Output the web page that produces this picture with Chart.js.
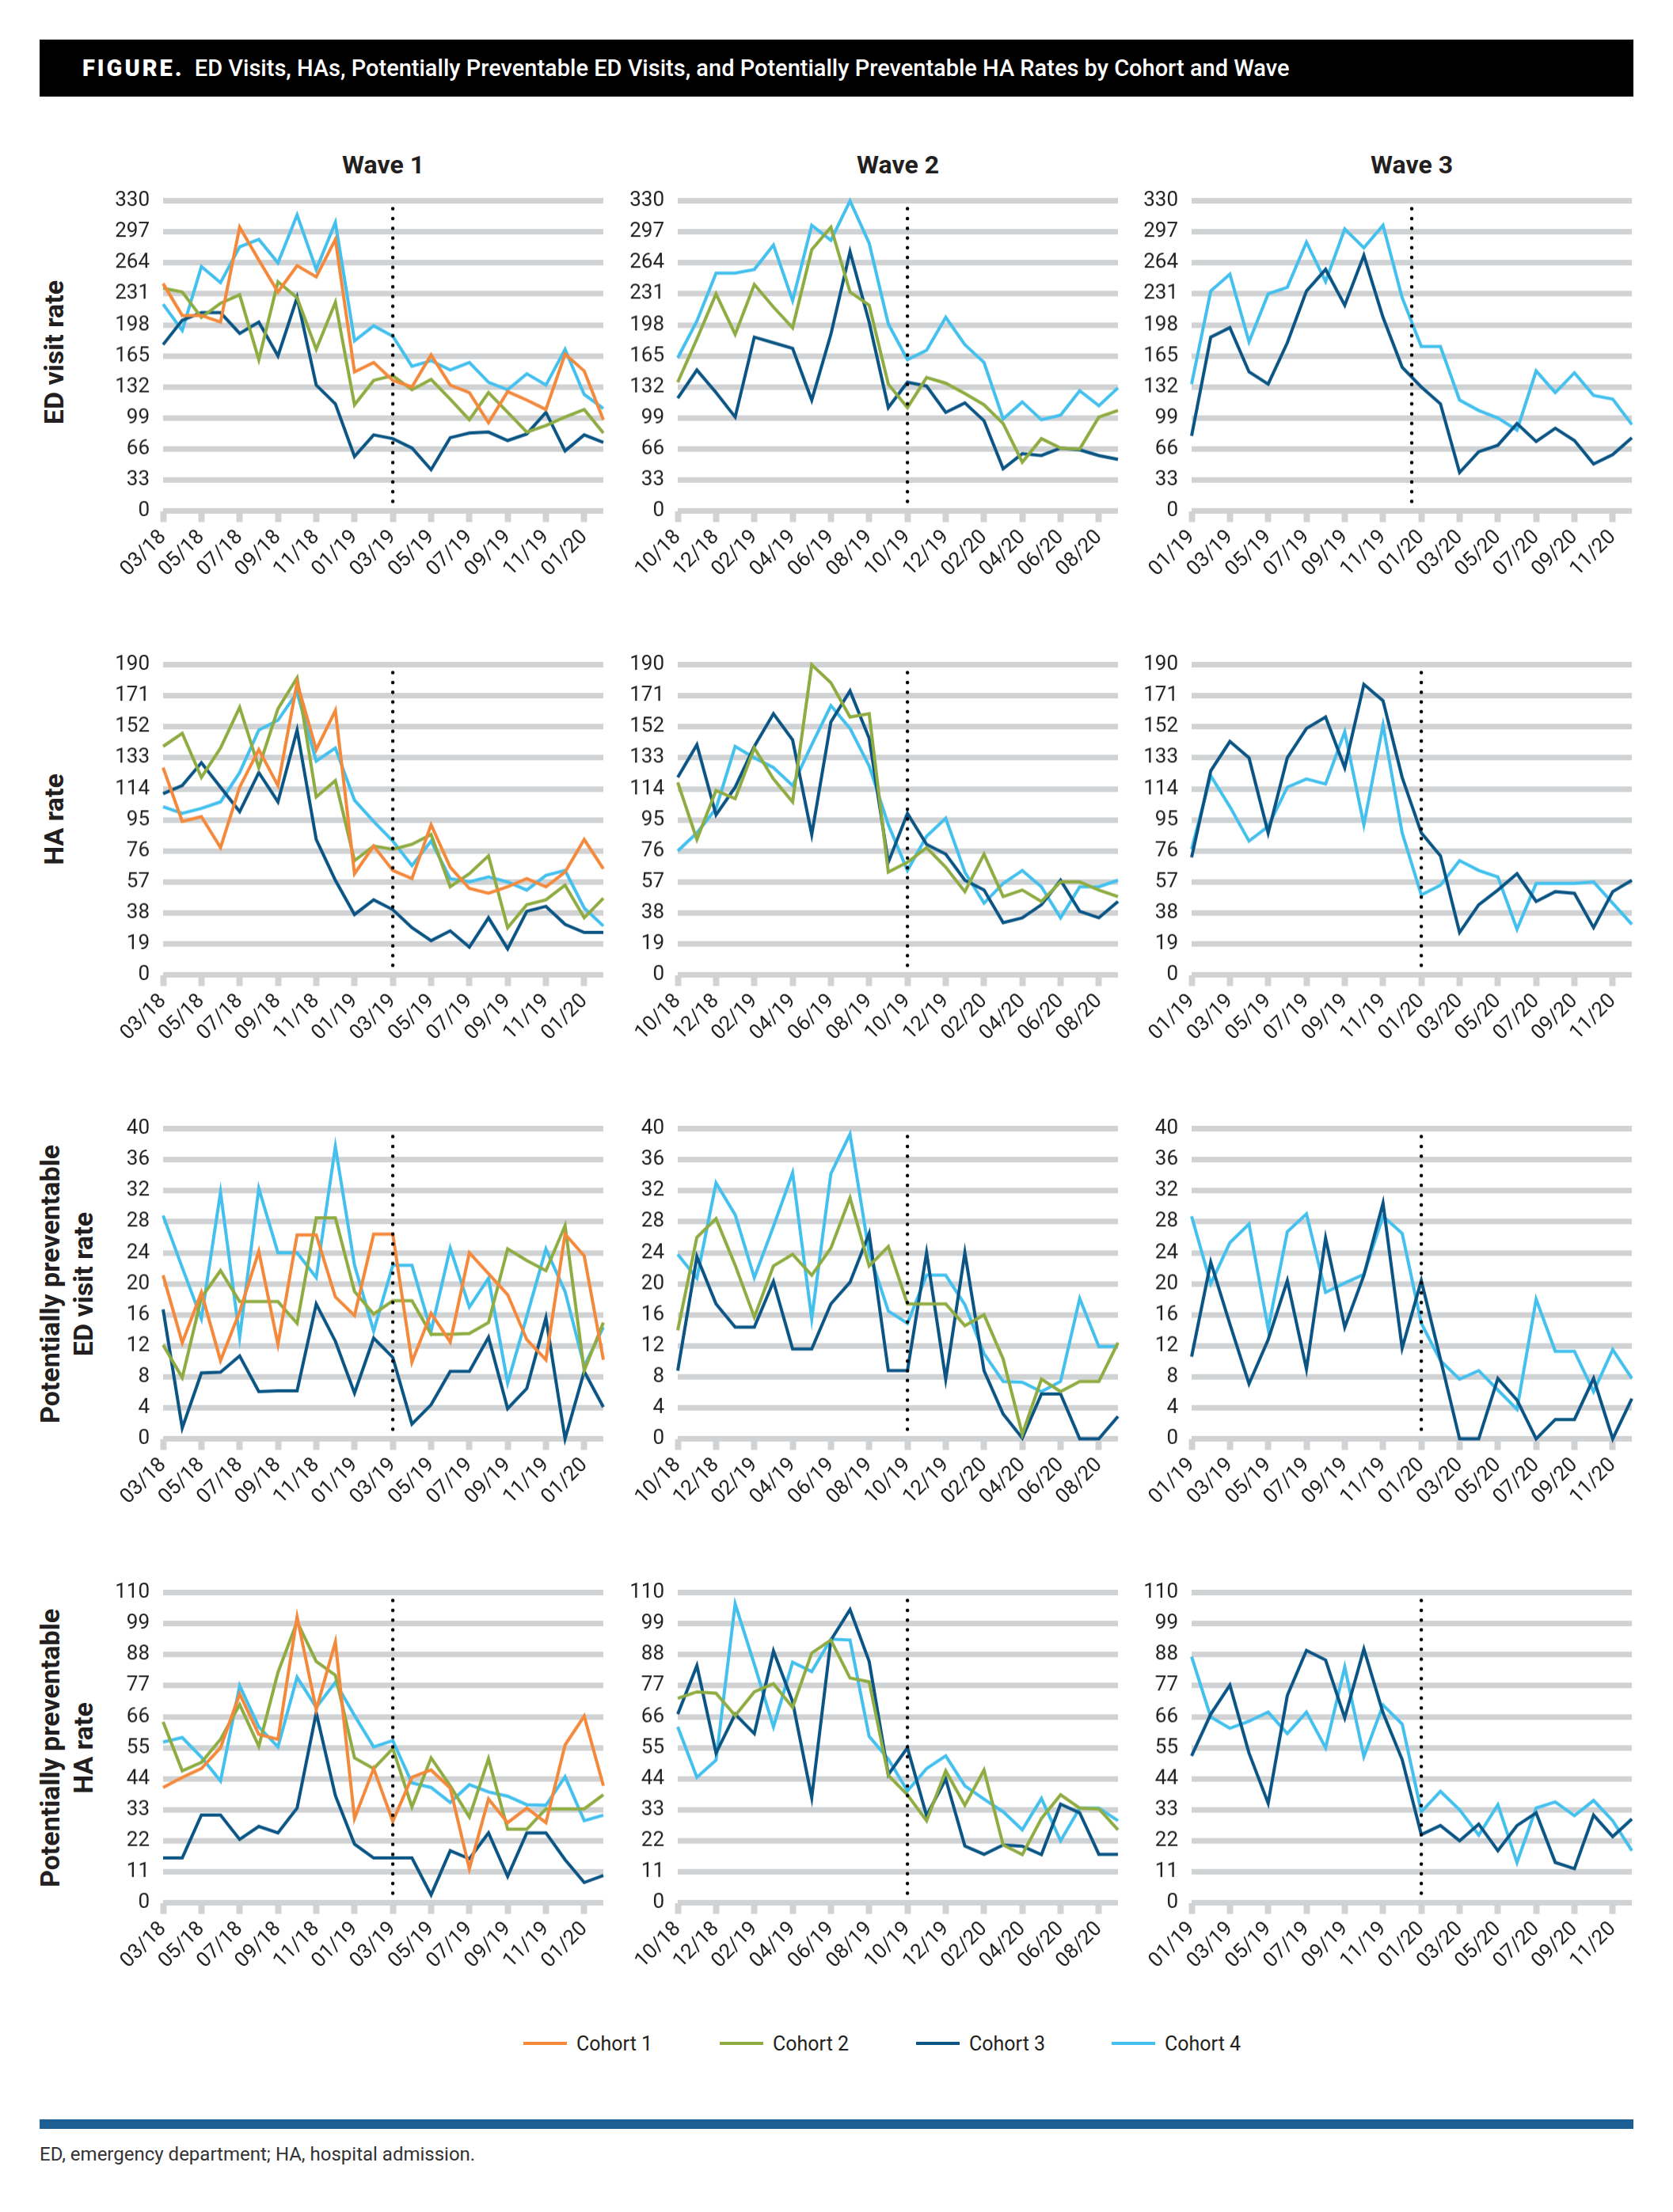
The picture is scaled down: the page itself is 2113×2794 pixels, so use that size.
<!DOCTYPE html>
<html lang="en">
<head>
  <meta charset="UTF-8">
  <title>ED Visits, HAs, Potentially Preventable ED Visits, and Potentially Preventable HA Rates by Cohort and Wave</title>
  <script src="https://cdn.jsdelivr.net/npm/chart.js"></script>
  <style>
    body { margin: 0; background: #fff; font-family: Roboto, "Liberation Sans", Arial, sans-serif; color: #231f20; }
    #page { position: relative; width: 2113px; height: 2794px; overflow: hidden; }
    .header { position: absolute; left: 50px; top: 50px; width: 2013px; height: 72px; background: #000; color: #fff;
              font-size: 29px; font-weight: 500; line-height: 72px; padding-left: 54px; box-sizing: border-box; white-space: nowrap; }
    .header b { font-weight: 900; letter-spacing: 3px; margin-right: 6px; }
    .wave { position: absolute; top: 188px; width: 556px; text-align: center; font-weight: 700; font-size: 32px; line-height: 40px; }
    .rowlab { position: absolute; font-weight: 700; font-size: 34px; line-height: 42px; text-align: center; white-space: nowrap;
              transform: translate(-50%, -50%) rotate(-90deg); }
    canvas { position: absolute; }
    .leg { position: absolute; top: 2566px; height: 30px; display: flex; align-items: center; font-size: 25px; white-space: nowrap; }
    .leg span { display: inline-block; width: 55px; height: 4px; margin-right: 12px; }
    .bar { position: absolute; left: 50px; top: 2677px; width: 2013px; height: 12px; background: #1b5f95; }
    .foot { position: absolute; left: 50px; top: 2707px; font-size: 24px; color: #333; }
  </style>
</head>
<body>
<div id="page">
  <div class="header"><b>FIGURE.</b> ED Visits, HAs, Potentially Preventable ED Visits, and Potentially Preventable HA Rates by Cohort and Wave</div>

  <div class="wave" style="left:206px">Wave 1</div>
  <div class="wave" style="left:856px">Wave 2</div>
  <div class="wave" style="left:1505px">Wave 3</div>

  <div class="rowlab" style="left:68px; top:445px">ED visit rate</div>
  <div class="rowlab" style="left:68px; top:1035px">HA rate</div>
  <div class="rowlab" style="left:84px; top:1622px">Potentially preventable<br>ED visit rate</div>
  <div class="rowlab" style="left:84px; top:2208px">Potentially preventable<br>HA rate</div>

  <div id="legend"></div>
  <div class="bar"></div>
  <div class="foot">ED, emergency department; HA, hospital admission.</div>
</div>

<script>
  // month labels for each wave
  const wave1Months = ['03/18','04/18','05/18','06/18','07/18','08/18','09/18','10/18','11/18','12/18','01/19','02/19',
                       '03/19','04/19','05/19','06/19','07/19','08/19','09/19','10/19','11/19','12/19','01/20','02/20'];
  const wave2Months = ['10/18','11/18','12/18','01/19','02/19','03/19','04/19','05/19','06/19','07/19','08/19','09/19',
                       '10/19','11/19','12/19','01/20','02/20','03/20','04/20','05/20','06/20','07/20','08/20','09/20'];
  const wave3Months = ['01/19','02/19','03/19','04/19','05/19','06/19','07/19','08/19','09/19','10/19','11/19','12/19',
                       '01/20','02/20','03/20','04/20','05/20','06/20','07/20','08/20','09/20','10/20','11/20','12/20'];

  const cohortNames = ['Cohort 1', 'Cohort 2', 'Cohort 3', 'Cohort 4'];
  const cohortColors = ['#f4883b', '#8fac42', '#0b5585', '#43c0ed'];

  // ED visit rate
  const edW1C1 = [242,208,208,201,302,267,233,261,249,289,148,158,139,132,166,134,126,94,127,118,108,167,149,97];
  const edW1C2 = [237,233,206,221,230,161,244,227,172,222,113,139,144,129,140,119,97,126,105,84,91,100,108,83];
  const edW1C3 = [177,203,211,211,189,201,165,227,134,114,58,81,77,67,44,78,83,84,75,82,105,64,81,73];
  const edW1C4 = [220,192,260,243,281,289,264,315,257,307,181,197,186,154,160,150,158,137,129,146,134,172,124,109];
  const edW2C2 = [137,183,231,188,241,217,195,278,302,233,219,135,110,142,136,125,113,93,52,77,67,66,100,107];
  const edW2C3 = [120,150,126,100,185,179,173,118,188,276,201,110,137,133,105,115,96,45,61,59,67,65,59,55];
  const edW2C4 = [163,202,253,253,257,283,224,304,288,330,285,199,161,171,206,177,158,98,116,97,102,128,112,131];
  const edW3C3 = [80,185,195,148,135,179,234,257,219,272,206,153,132,114,41,63,70,93,74,88,75,50,60,78];
  const edW3C4 = [135,234,252,180,231,238,286,244,300,280,304,227,175,175,118,107,99,86,149,126,147,123,119,92];

  // HA rate
  const haW1C1 = [127,94,97,78,115,138,116,179,138,162,62,79,64,59,92,66,53,50,54,59,54,63,83,65];
  const haW1C2 = [140,148,121,139,164,127,163,182,109,119,70,79,77,80,86,54,62,73,29,43,46,55,35,47];
  const haW1C3 = [111,116,130,115,100,124,106,150,83,58,37,46,40,29,21,27,17,35,16,39,42,31,26,26];
  const haW1C4 = [103,99,102,106,124,150,156,173,131,139,107,94,82,67,82,59,57,60,57,52,61,64,41,30];
  const haW2C2 = [118,83,113,108,139,120,106,190,179,158,160,63,69,78,66,51,74,48,52,45,57,57,52,48];
  const haW2C3 = [121,141,98,115,140,160,144,86,155,174,145,69,99,80,74,58,52,32,35,43,58,39,35,45];
  const haW2C4 = [76,87,102,140,133,127,116,141,165,151,128,92,64,85,96,63,44,56,64,54,35,54,54,58];
  const haW3C3 = [72,125,143,133,87,133,151,158,127,178,168,121,87,73,26,43,52,62,45,51,50,29,51,58];
  const haW3C4 = [77,122,103,82,91,115,120,117,149,92,153,87,49,55,70,64,60,28,56,56,56,57,44,31];

  // potentially preventable ED visit rate
  const ppedW1C1 = [21.1,12.4,18.9,10.1,16.4,24.2,12.2,26.3,26.3,18.3,15.9,26.4,26.4,9.9,16.2,12.5,24.0,21.3,18.6,12.8,10.2,26.4,23.6,10.2];
  const ppedW1C2 = [12.1,7.9,18.2,21.7,17.7,17.7,17.7,14.9,28.5,28.5,19.0,16.1,17.8,17.8,13.5,13.5,13.6,15.0,24.5,23.0,21.7,27.5,8.8,15.0];
  const ppedW1C3 = [16.7,1.4,8.5,8.6,10.7,6.1,6.2,6.2,17.4,12.6,5.9,13.0,10.5,1.9,4.4,8.7,8.7,13.1,3.9,6.5,15.6,0,8.7,4.1];
  const ppedW1C4 = [28.8,22.1,15.5,31.8,13.1,32.3,24.0,24.0,20.8,37.7,22.4,13.9,22.4,22.4,13.9,24.6,17.0,20.7,7.2,15.8,24.5,19.0,9.4,14.4];
  const ppedW2C2 = [14.0,26.0,28.4,22.4,15.7,22.3,23.8,21.1,24.6,31.1,22.3,24.8,17.4,17.4,17.4,14.6,16.0,10.3,0.6,7.7,6.1,7.4,7.4,12.4];
  const ppedW2C3 = [8.8,23.5,17.4,14.4,14.4,20.3,11.6,11.6,17.4,20.2,26.5,8.8,8.8,24.0,7.7,24.0,8.8,3.2,0.1,5.8,5.8,0,0,2.9];
  const ppedW2C4 = [23.8,20.7,33.0,28.9,20.8,27.4,34.3,15.5,34.2,39.3,24.0,16.5,14.9,21.1,21.1,17.3,11.0,7.4,7.3,6.1,7.4,18.1,11.9,11.9];
  const ppedW3C3 = [10.6,22.8,14.8,7.1,12.8,20.4,9.0,25.9,14.4,21.1,30.4,11.7,20.4,10.3,0,0,7.8,5.0,0,2.5,2.5,7.8,0,5.2];
  const ppedW3C4 = [28.7,20.0,25.3,27.7,14.2,26.7,29.0,18.9,20.1,21.2,28.7,26.5,14.9,10.1,7.7,8.8,6.3,3.8,18.0,11.3,11.3,6.1,11.5,7.8];

  // potentially preventable HA rate
  const pphaW1C1 = [40.9,44.5,47.6,55.0,74.1,59.7,58.0,101.4,68.5,92.5,29.9,47.6,28.9,44.5,47.1,40.7,12.1,36.8,28.4,33.6,28.4,56.0,66.2,41.5];
  const pphaW1C2 = [64.2,46.8,49.8,58.0,70.3,55.5,81.7,99.7,85.6,80.7,51.4,47.6,54.7,34.0,51.4,41.5,30.4,51.1,26.1,26.1,33.3,33.3,33.3,38.3];
  const pphaW1C3 = [15.9,15.9,31.1,31.1,22.5,27.1,24.8,33.6,67.4,38.0,20.8,15.9,15.9,15.9,2.8,18.5,15.6,24.8,9.4,24.8,24.8,15.3,7.2,9.7];
  const pphaW1C4 = [57.0,58.6,51.6,43.2,77.0,62.4,55.3,80.0,69.3,78.2,66.4,55.3,57.5,42.5,40.9,35.6,41.9,39.3,37.8,34.8,34.6,44.7,29.1,31.1];
  const pphaW2C2 = [72.5,74.8,74.3,66.4,74.8,77.7,69.3,88.6,93.2,79.7,78.4,45.2,38.3,29.1,46.8,34.6,47.1,20.5,17.1,29.9,38.3,33.6,33.3,25.9];
  const pphaW2C3 = [66.9,84.1,53.1,66.9,60.0,89.3,71.3,37.3,93.2,104.0,85.6,45.5,55.0,30.9,43.9,20.1,17.2,20.5,20.1,17.1,35.0,31.9,17.2,17.2];
  const pphaW2C4 = [62.4,44.5,50.6,106.0,84.6,62.4,85.3,82.0,93.5,93.2,59.0,51.0,39.7,47.6,52.1,41.5,36.8,32.3,25.9,37.0,22.0,33.6,33.6,29.1];
  const pphaW3C3 = [52.1,66.9,77.2,53.1,35.3,73.5,89.5,86.1,65.6,90.0,67.4,50.8,24.2,27.4,22.0,27.9,18.5,27.4,31.9,14.3,12.1,31.1,23.5,29.7];
  const pphaW3C4 = [87.3,65.9,61.9,64.4,67.6,60.0,67.6,55.0,83.6,51.8,70.1,63.4,32.3,39.5,33.0,24.0,34.8,14.3,33.6,35.8,30.9,36.3,29.1,18.5];

  // y axis per row: max, step
  const rowMax = [330, 190, 40, 110];
  const rowStep = [33, 19, 4, 11];
  // where the dotted line sits (month index), per row and wave
  const dividerAt = [[12, 12, 11.5], [12, 12, 12], [12, 12, 12], [12, 12, 12]];

  // panel placement (chart area, page pixels)
  const colLeft = [206, 856, 1505];
  const rowTop = [254, 840, 1426, 2012];
  const areaW = 556, areaH = 391, yAxisW = 75, xAxisH = 95, padRight = 15;

  Chart.defaults.font.family = 'Roboto, "Liberation Sans", Arial, sans-serif';
  Chart.defaults.color = '#231f20';

  const dividerPlugin = {
    id: 'divider',
    afterDatasetsDraw(chart, args, opts) {
      const { ctx, chartArea } = chart;
      const x = chart.scales.x.getPixelForValue(opts.at);
      ctx.save();
      ctx.strokeStyle = '#000';
      ctx.lineWidth = 4.5;
      ctx.lineCap = 'round';
      ctx.setLineDash([0, 12.3]);
      ctx.beginPath();
      ctx.moveTo(x, chartArea.top + 10);
      ctx.lineTo(x, chartArea.bottom);
      ctx.stroke();
      ctx.restore();
    }
  };

  function makePanel(row, col, months, series) {
    const canvas = document.createElement('canvas');
    canvas.width = yAxisW + areaW + padRight;
    canvas.height = 20 + areaH + xAxisH;
    document.getElementById('page').appendChild(canvas);

    // series: [cohortIndex, values]
    const datasets = series.map(([c, values]) => ({
      label: cohortNames[c],
      data: values,
      borderColor: cohortColors[c],
      backgroundColor: cohortColors[c],
      borderWidth: 4,
      pointRadius: 0,
      tension: 0,
      clip: false
    }));

    const chart = new Chart(canvas, {
      type: 'line',
      data: { labels: months, datasets },
      options: {
        responsive: false,
        maintainAspectRatio: false,
        animation: false,
        layout: { padding: { top: 12, right: padRight, left: 0, bottom: 0 } },
        plugins: { legend: { display: false }, tooltip: { enabled: false }, divider: { at: dividerAt[row][col] } },
        scales: {
          x: {
            border: { display: false },
            grid: {
              drawOnChartArea: false, drawTicks: true, tickLength: 14, tickWidth: 8,
              tickColor: ctx => ctx.index % 2 === 0 ? '#d1d2d4' : 'rgba(0,0,0,0)'
            },
            ticks: {
              autoSkip: false, minRotation: 45, maxRotation: 45, padding: 4,
              font: { size: 26 },
              callback: (v, i) => i % 2 === 0 ? months[i] : ''
            },
            afterFit: s => { s.height = xAxisH; }
          },
          y: {
            min: 0, max: rowMax[row],
            border: { display: false },
            grid: { color: '#d1d2d4', lineWidth: 7, drawTicks: false },
            ticks: { stepSize: rowStep[row], padding: 17, font: { size: 26 } },
            afterFit: s => { s.width = yAxisW; }
          }
        }
      },
      plugins: [dividerPlugin]
    });

    // make the plot area exactly the wanted size, then place it on the page
    let a = chart.chartArea;
    const dw = areaW - (a.right - a.left);
    const dh = areaH - (a.bottom - a.top);
    if (Math.abs(dw) > 0.5 || Math.abs(dh) > 0.5) {
      chart.resize(chart.width + dw, chart.height + dh);
      a = chart.chartArea;
    }
    canvas.style.left = (colLeft[col] - a.left) + 'px';
    canvas.style.top = (rowTop[row] - a.top) + 'px';
  }

  makePanel(0, 0, wave1Months, [[0, edW1C1], [1, edW1C2], [2, edW1C3], [3, edW1C4]]);
  makePanel(0, 1, wave2Months, [[1, edW2C2], [2, edW2C3], [3, edW2C4]]);
  makePanel(0, 2, wave3Months, [[2, edW3C3], [3, edW3C4]]);

  makePanel(1, 0, wave1Months, [[0, haW1C1], [1, haW1C2], [2, haW1C3], [3, haW1C4]]);
  makePanel(1, 1, wave2Months, [[1, haW2C2], [2, haW2C3], [3, haW2C4]]);
  makePanel(1, 2, wave3Months, [[2, haW3C3], [3, haW3C4]]);

  makePanel(2, 0, wave1Months, [[0, ppedW1C1], [1, ppedW1C2], [2, ppedW1C3], [3, ppedW1C4]]);
  makePanel(2, 1, wave2Months, [[1, ppedW2C2], [2, ppedW2C3], [3, ppedW2C4]]);
  makePanel(2, 2, wave3Months, [[2, ppedW3C3], [3, ppedW3C4]]);

  makePanel(3, 0, wave1Months, [[0, pphaW1C1], [1, pphaW1C2], [2, pphaW1C3], [3, pphaW1C4]]);
  makePanel(3, 1, wave2Months, [[1, pphaW2C2], [2, pphaW2C3], [3, pphaW2C4]]);
  makePanel(3, 2, wave3Months, [[2, pphaW3C3], [3, pphaW3C4]]);

  // legend
  const legendLeft = [661, 909, 1157, 1404];
  const legend = document.getElementById('legend');
  cohortNames.forEach((name, i) => {
    const item = document.createElement('div');
    item.className = 'leg';
    item.style.left = legendLeft[i] + 'px';
    item.innerHTML = '<span style="background:' + cohortColors[i] + '"></span>' + name;
    legend.appendChild(item);
  });
</script>
</body>
</html>
